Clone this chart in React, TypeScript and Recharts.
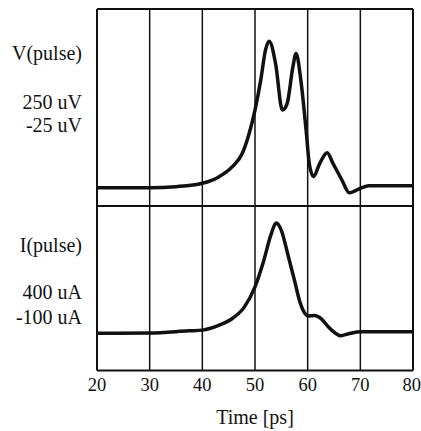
import React from 'react';
import { LineChart, Line, XAxis, YAxis, ReferenceLine } from 'recharts';

// time axis
const timeTicks = [20, 30, 40, 50, 60, 70, 80];

// V(pulse), uV
const vTime = [20, 30, 35, 40, 43.2, 45.7, 47.6, 48.9, 50, 51.1, 52, 52.7, 53.9, 55.2, 56.1, 57.2, 57.8, 58.7, 59.7, 60.3, 61.1, 62.3, 63.7, 64.8, 66.5, 67.9, 70, 71.6, 80];
const vValues = [0.5, 0.5, 2, 6.7, 16, 30, 48.6, 76.5, 109, 151, 193, 205, 174, 109, 118, 169.5, 188, 151, 81, 34.6, 16, 34.6, 49.4, 34.6, 11.3, -6.4, -0.3, 3.3, 3.3];

// I(pulse), uA
const iTime = [20, 30, 37.5, 40, 43.2, 45.7, 48, 50, 51.5, 53.1, 54, 55, 56.2, 57.5, 58.5, 59.3, 60, 61.3, 62.6, 63.9, 65.5, 66.2, 68.1, 70, 80];
const iValues = [13, 14, 20.6, 22.7, 38, 58, 93.4, 154, 225, 316, 348, 326, 255, 174, 110, 78, 66, 67, 57, 33, 11, 5.5, 13, 17.6, 17.6];

const vDomain = [-25, 250];
const iDomain = [-100, 400];

const vData = vTime.map((t, i) => ({ t, v: vValues[i] }));
const iData = iTime.map((t, i) => ({ t, v: iValues[i] }));

const ink = '#111';
const font = '"Liberation Serif", "Times New Roman", serif';

function frame(domain: number[]) {
  // grid + panel border, all through the chart scales
  return [
    ...timeTicks.map((t) => (
      <ReferenceLine key={'x' + t} x={t} stroke={ink} strokeWidth={t === 20 || t === 80 ? 2 : 1.5} />
    )),
    <ReferenceLine key="ytop" y={domain[1]} stroke={ink} strokeWidth={2} />,
    <ReferenceLine key="ybot" y={domain[0]} stroke={ink} strokeWidth={2} />,
  ];
}

const sideLabel = (text: string, top: number) => (
  <div
    style={{
      position: 'absolute',
      right: 339,
      top,
      fontSize: 20,
      lineHeight: '20px',
      textAlign: 'right',
      whiteSpace: 'nowrap',
      color: ink,
    }}
  >
    {text}
  </div>
);

export default function App() {
  return (
    <div
      style={{
        position: 'absolute',
        left: 0,
        top: 0,
        width: 421,
        height: 431,
        background: '#fff',
        fontFamily: font,
        overflow: 'hidden',
      }}
    >
      <div style={{ position: 'absolute', left: 0, top: 0 }}>
        <LineChart width={421} height={215} data={vData} margin={{ top: 9, right: 8, bottom: 9, left: 97 }}>
          <XAxis dataKey="t" type="number" domain={[20, 80]} ticks={timeTicks} hide />
          <YAxis type="number" domain={vDomain} hide />
          {frame(vDomain)}
          <Line
            type="monotone"
            dataKey="v"
            stroke={ink}
            strokeWidth={3.5}
            dot={false}
            isAnimationActive={false}
          />
        </LineChart>
      </div>

      <div style={{ position: 'absolute', left: 0, top: 196 }}>
        <LineChart width={421} height={235} data={iData} margin={{ top: 10, right: 8, bottom: 0, left: 97 }}>
          <XAxis
            dataKey="t"
            type="number"
            domain={[20, 80]}
            ticks={timeTicks}
            height={60.5}
            axisLine={false}
            tickLine={false}
            tickSize={0}
            tickMargin={7}
            tick={{ fill: ink, fontSize: 18.5, fontFamily: font }}
            label={{ value: 'Time [ps]', position: 'insideBottom', offset: 7, fill: ink, fontSize: 20, fontFamily: font }}
          />
          <YAxis type="number" domain={iDomain} hide />
          {frame(iDomain)}
          <Line
            type="monotone"
            dataKey="v"
            stroke={ink}
            strokeWidth={3.5}
            dot={false}
            isAnimationActive={false}
          />
        </LineChart>
      </div>

      {sideLabel('V(pulse)', 43)}
      {sideLabel('250 uV', 91.5)}
      {sideLabel('-25 uV', 115)}
      {sideLabel('I(pulse)', 235)}
      {sideLabel('400 uA', 281.5)}
      {sideLabel('-100 uA', 306.5)}
    </div>
  );
}
